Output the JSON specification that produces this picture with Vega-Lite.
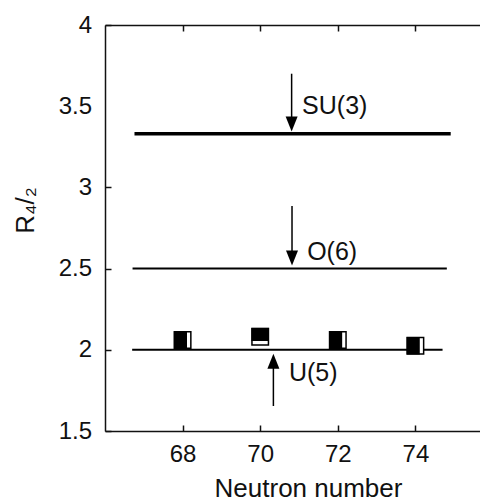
{
  "$schema": "https://vega.github.io/schema/vega-lite/v6.json",
  "autosize": "none",
  "width": 375,
  "height": 406,
  "padding": {"left": 105, "top": 25, "right": 0, "bottom": 71},
  "background": "white",
  "config": {
    "view": {"stroke": null},
    "font": "Liberation Sans",
    "axis": {
      "grid": false,
      "domainColor": "#111",
      "domainWidth": 1.5,
      "tickColor": "#111",
      "tickWidth": 1.5,
      "tickSize": -6,
      "labelColor": "#111",
      "titleColor": "#111",
      "labelFont": "Liberation Sans",
      "titleFont": "Liberation Sans",
      "labelFontSize": 24,
      "titleFontSize": 25,
      "titleFontWeight": "normal"
    }
  },
  "datasets": {
    "levels": [
      {"limit": "SU(3)", "from": 66.76, "to": 74.91, "R": 3.33, "weight": "thick"},
      {"limit": "O(6)", "from": 66.71, "to": 74.81, "R": 2.5, "weight": "thin"},
      {"limit": "U(5)", "from": 66.70, "to": 74.70, "R": 2.0, "weight": "thin"}
    ],
    "arrows": [
      {"limit": "SU(3)", "N": 70.81, "tail": 3.70, "head": 3.39, "direction": "down", "labelN": 71.08, "labelR": 3.50},
      {"limit": "O(6)", "N": 70.82, "tail": 2.885, "head": 2.565, "direction": "down", "labelN": 71.21, "labelR": 2.604},
      {"limit": "U(5)", "N": 70.34, "tail": 1.654, "head": 1.93, "direction": "up", "labelN": 70.74, "labelR": 1.86}
    ],
    "ratios": [
      {"N": 68, "R": 2.06},
      {"N": 70, "R": 2.081},
      {"N": 72, "R": 2.06},
      {"N": 74, "R": 2.025}
    ]
  },
  "resolve": {"axis": {"x": "independent", "y": "independent"}},
  "layer": [
    {
      "data": {"name": "levels"},
      "mark": {"type": "rule", "color": "black"},
      "encoding": {
        "x": {
          "field": "from", "type": "quantitative",
          "scale": {"domain": [66, 75.665], "nice": false, "zero": false},
          "axis": {
            "orient": "bottom",
            "values": [68, 70, 72, 74],
            "title": "Neutron number",
            "labelPadding": 17,
            "labelFlush": false,
            "titleX": 203,
            "titleY": 65,
            "titleBaseline": "alphabetic",
            "titleFontSize": 26
          }
        },
        "x2": {"field": "to"},
        "y": {
          "field": "R", "type": "quantitative",
          "scale": {"domain": [1.5, 4], "nice": false, "zero": false},
          "axis": {
            "orient": "left",
            "values": [1.5, 2, 2.5, 3, 3.5, 4],
            "format": "~g",
            "labelPadding": 19.5,
            "labelFlush": false,
            "tickColor": {"condition": {"test": "datum.value === 3.5", "value": "transparent"}, "value": "#111"},
            "title": "R₄/₂",
            "titleX": -80,
            "titleY": 185,
            "titleBaseline": "middle",
            "titleAlign": "center",
            "titleAngle": -90,
            "titleFontSize": 26
          }
        },
        "strokeWidth": {
          "field": "weight", "type": "nominal",
          "scale": {"domain": ["thick", "thin"], "range": [3.5, 2]},
          "legend": null
        }
      }
    },
    {
      "data": {"name": "arrows"},
      "mark": {"type": "rule", "color": "black", "strokeWidth": 1.5},
      "encoding": {
        "x": {"field": "N", "type": "quantitative", "axis": null},
        "y": {"field": "tail", "type": "quantitative", "axis": null},
        "y2": {"field": "head"}
      }
    },
    {
      "data": {"name": "arrows"},
      "mark": {"type": "point", "filled": true, "color": "black", "strokeWidth": 0, "opacity": 1},
      "encoding": {
        "x": {"field": "N", "type": "quantitative", "axis": null},
        "y": {"field": "head", "type": "quantitative", "axis": null},
        "shape": {
          "field": "direction", "type": "nominal",
          "scale": {"domain": ["down", "up"], "range": ["M-0.8,-1L0.8,-1L0,1Z", "M-0.8,1L0.8,1L0,-1Z"]},
          "legend": null
        },
        "size": {"value": 225}
      }
    },
    {
      "data": {"name": "arrows"},
      "mark": {"type": "text", "align": "left", "baseline": "middle", "fontSize": 25, "color": "#111", "font": "Liberation Sans"},
      "encoding": {
        "x": {"field": "labelN", "type": "quantitative", "axis": null},
        "y": {"field": "labelR", "type": "quantitative", "axis": null},
        "text": {"field": "limit"}
      }
    },
    {
      "data": {"name": "ratios"},
      "mark": {"type": "point", "shape": "square", "filled": true, "fill": "white", "stroke": "black", "strokeWidth": 1.5, "size": 272, "opacity": 1},
      "encoding": {
        "x": {
          "field": "N", "type": "quantitative",
          "axis": {"orient": "top", "values": [68, 70, 72, 74], "labels": false, "title": null}
        },
        "y": {"field": "R", "type": "quantitative", "axis": null}
      }
    },
    {
      "data": {"name": "ratios"},
      "mark": {"type": "point", "filled": true, "color": "black", "strokeWidth": 0, "size": 306, "opacity": 1},
      "encoding": {
        "x": {"field": "N", "type": "quantitative", "axis": null},
        "y": {"field": "R", "type": "quantitative", "axis": null},
        "shape": {
          "condition": {"test": "datum.N === 70", "value": "M-1,-1H1V0.5H-1Z"},
          "value": "M-1,-1H0.5V1H-1Z"
        }
      }
    }
  ]
}
